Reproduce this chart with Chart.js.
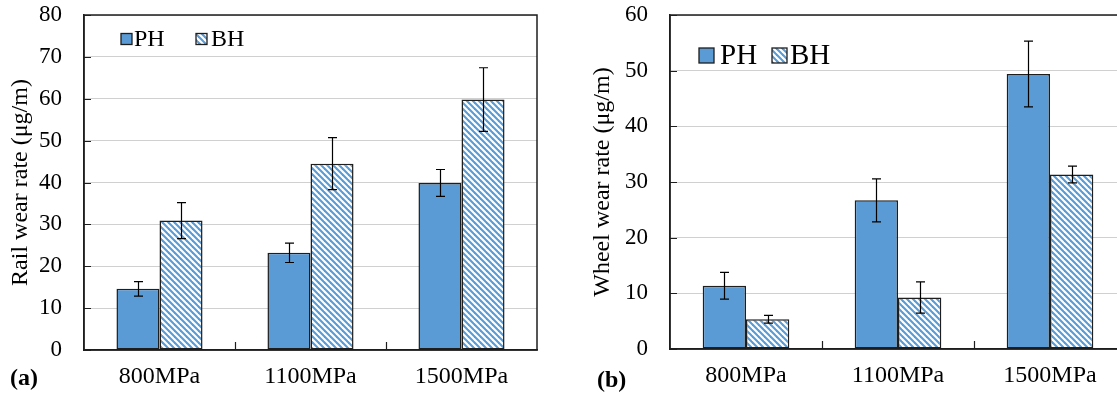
<!DOCTYPE html>
<html>
<head>
<meta charset="utf-8">
<script src="https://cdn.jsdelivr.net/npm/chart.js@4"></script>
<style>
  html, body { margin:0; padding:0; background:#fff; overflow:hidden; width:1117px; height:396px; }
  .wrap { position:absolute; top:0; }
  .panel { position:absolute; font-family:'Liberation Serif','Times New Roman',serif; font-weight:bold; font-size:24px; line-height:24px; color:#000; }
</style>
</head>
<body>
<div class="wrap" style="left:0;width:558px;height:396px;"><canvas id="c1" width="558" height="396"></canvas></div>
<div class="wrap" style="left:560px;width:580px;height:396px;"><canvas id="c2" width="580" height="396"></canvas></div>
<div class="panel" style="left:10px;top:365px;">(a)</div>
<div class="panel" style="left:597px;top:367px;">(b)</div>
<script>
// ---- data ----
const categories = ['800MPa', '1100MPa', '1500MPa'];
const seriesNames = ['PH', 'BH'];

const railPH = [14.6, 23.2, 39.9];
const railPHErr = [1.75, 2.3, 3.2];
const railBH = [30.9, 44.5, 59.8];
const railBHErr = [4.3, 6.2, 7.6];
const railTicks = [0, 10, 20, 30, 40, 50, 60, 70, 80];

const wheelPH = [11.35, 26.7, 49.4];
const wheelPHErr = [2.4, 3.85, 5.9];
const wheelBH = [5.35, 9.25, 31.35];
const wheelBHErr = [0.7, 2.8, 1.5];
const wheelTicks = [0, 10, 20, 30, 40, 50, 60];

// ---- styles ----
const FONT = "'Liberation Serif','Times New Roman',serif";
const BLUE = '#5b9bd5';
const DARK = '#1e1e1e';

function hatchPattern() {
  const s = 6;
  const c = document.createElement('canvas');
  c.width = s; c.height = s;
  const g = c.getContext('2d');
  g.fillStyle = '#fff'; g.fillRect(0, 0, s, s);
  g.strokeStyle = BLUE; g.lineWidth = 2.1;
  for (const k of [-s, 0, s]) { g.beginPath(); g.moveTo(k - 1, -1); g.lineTo(k + s + 1, s + 1); g.stroke(); }
  return g.createPattern(c, 'repeat');
}
const HATCH = hatchPattern();

const errorBars = { id: 'errorBars', afterDatasetsDraw(chart) {
  const ctx = chart.ctx, ys = chart.scales.y;
  ctx.save(); ctx.strokeStyle = '#000'; ctx.lineWidth = 1.2;
  chart.data.datasets.forEach((ds, i) => {
    chart.getDatasetMeta(i).data.forEach((el, j) => {
      const v = ds.data[j], e = ds.errors[j];
      const x = Math.round(el.x) + 0.5;
      const y1 = ys.getPixelForValue(v + e), y2 = ys.getPixelForValue(v - e), cw = 4.5;
      ctx.beginPath();
      ctx.moveTo(x, y1); ctx.lineTo(x, y2);
      ctx.moveTo(x - cw, y1); ctx.lineTo(x + cw, y1);
      ctx.moveTo(x - cw, y2); ctx.lineTo(x + cw, y2);
      ctx.stroke();
    });
  });
  ctx.restore();
}};

const frame = { id: 'frame', beforeDatasetsDraw(chart) {
  const {ctx, chartArea: a} = chart; const ys = chart.scales.y, xs = chart.scales.x;
  ctx.save(); ctx.strokeStyle = DARK; ctx.lineWidth = 1.5;
  ctx.strokeRect(a.left, a.top, a.right - a.left, a.bottom - a.top);
  ctx.lineWidth = 1.2; ctx.beginPath();
  ys.ticks.forEach(t => { const y = Math.round(ys.getPixelForValue(t.value)) + 0.5; ctx.moveTo(a.left, y); ctx.lineTo(a.left + 7, y); });
  for (let i = 1; i < xs.ticks.length; i++) {
    const x = Math.round((xs.getPixelForTick(i - 1) + xs.getPixelForTick(i)) / 2) + 0.5;
    ctx.moveTo(x, a.bottom); ctx.lineTo(x, a.bottom - 8);
  }
  ctx.stroke(); ctx.restore();
}};

const innerLegend = { id: 'innerLegend', afterDraw(chart, args, opts) {
  const {ctx, chartArea: a} = chart;
  ctx.save(); ctx.font = opts.size + 'px ' + FONT; ctx.textBaseline = 'middle'; ctx.textAlign = 'left';
  chart.data.datasets.forEach((ds, i) => {
    const bx = a.left + opts.boxX[i], by = a.top + opts.boxY, bs = opts.box;
    ctx.fillStyle = ds.backgroundColor; ctx.fillRect(bx, by, bs, bs);
    ctx.strokeStyle = DARK; ctx.lineWidth = 1.3; ctx.strokeRect(bx, by, bs, bs);
    ctx.fillStyle = '#000'; ctx.fillText(ds.label, a.left + opts.textX[i], by + bs / 2 + 1);
  });
  ctx.restore();
}};

function makeChart(id, ph, phErr, bh, bhErr, ticks, yTitle, yWidth, pad, legendOpts) {
  return new Chart(document.getElementById(id), {
    type: 'bar',
    data: { labels: categories, datasets: [
      { label: seriesNames[0], data: ph, errors: phErr, backgroundColor: BLUE, borderColor: DARK, borderWidth: 1.5, borderSkipped: false, categoryPercentage: 0.57, barPercentage: 1.0 },
      { label: seriesNames[1], data: bh, errors: bhErr, backgroundColor: HATCH, borderColor: DARK, borderWidth: 1.5, borderSkipped: false, categoryPercentage: 0.57, barPercentage: 1.0 }
    ]},
    options: {
      responsive: false, animation: false, devicePixelRatio: 1,
      layout: { padding: { left: pad.left, top: pad.top, right: pad.right, bottom: 0 } },
      plugins: { legend: { display: false }, tooltip: { enabled: false }, innerLegend: legendOpts },
      scales: {
        x: { ticks: { font: { family: FONT, size: 24 }, color: '#000', padding: 12 },
             grid: { display: false, drawTicks: false },
             border: { display: true, color: DARK, width: 1.5 },
             afterFit(s) { s.height = pad.xh; s.paddingLeft = 0; s.paddingRight = 0; } },
        y: { min: ticks[0], max: ticks[ticks.length - 1],
             afterBuildTicks(s) { s.ticks = ticks.map(v => ({ value: v })); },
             ticks: { font: { family: FONT, size: 23 }, color: '#000', padding: 22 },
             grid: { color: '#d0d0d0', lineWidth: 1, drawTicks: false },
             border: { display: true, color: DARK, width: 1.5 },
             title: { display: true, text: yTitle, color: '#000', font: { family: FONT, size: 24 }, padding: { top: 6, bottom: 0 } },
             afterFit(s) { s.width = yWidth; s.paddingTop = 0; s.paddingBottom = 0; } }
      }
    },
    plugins: [frame, errorBars, innerLegend]
  });
}

makeChart('c1', railPH, railPHErr, railBH, railBHErr, railTicks, 'Rail wear rate (μg/m)', 84,
  { left: 0, top: 15, right: 21, xh: 46 }, { size: 24, box: 11, boxY: 18.5, boxX: [37, 112], textX: [50, 127] });
makeChart('c2', wheelPH, wheelPHErr, wheelBH, wheelBHErr, wheelTicks, 'Wheel wear rate (μg/m)', 88,
  { left: 22, top: 15, right: 14, xh: 47 }, { size: 29, box: 15, boxY: 33, boxX: [29, 102], textX: [50, 120] });
</script>
</body>
</html>
